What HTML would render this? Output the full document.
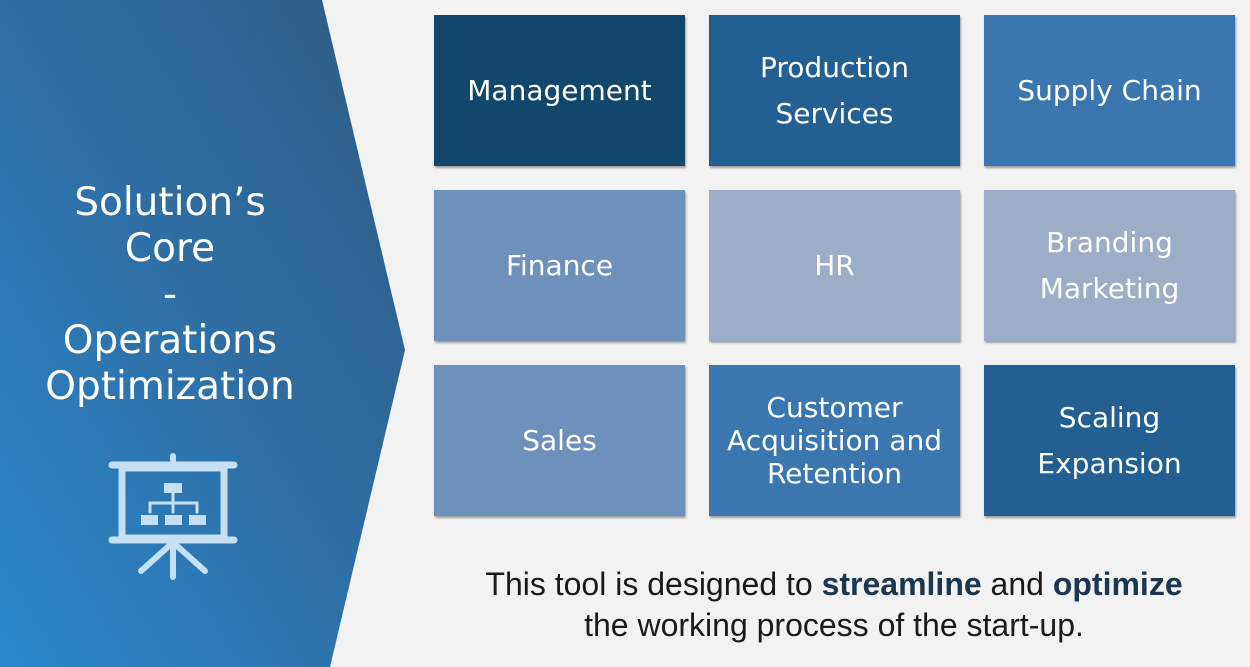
<!DOCTYPE html>
<html><head><meta charset="utf-8"><style>
body{margin:0;width:1250px;height:667px;background:#f2f2f2;position:relative;overflow:hidden;font-family:"DejaVu Sans","Liberation Sans",sans-serif}
.b{position:absolute;width:251px;height:151px;display:flex;align-items:center;justify-content:center;text-align:center;color:#fff;font-size:28px;line-height:46px;box-shadow:1px 2px 2px rgba(0,0,0,.35)}
.c{position:absolute;left:0;top:180px;width:340px;text-align:center;color:#fff;font-size:39px;line-height:46px}
.t{position:absolute;left:434px;width:800px;top:564px;text-align:center;font-family:"Liberation Sans",sans-serif;font-size:32px;color:#1a1a1a;line-height:41px}
</style></head><body>
<svg width="1250" height="667" style="position:absolute;left:0;top:0">
<defs><linearGradient id="g" x1="1" y1="0" x2="0" y2="1"><stop offset="0" stop-color="#2f5a80"/><stop offset="0.5" stop-color="#2e6fa6"/><stop offset="1" stop-color="#2a87cb"/></linearGradient></defs>
<polygon points="0,0 322,0 405,350 330,667 0,667" fill="url(#g)"/>
<g stroke="#c5e0f4" fill="none" stroke-linecap="round">
<line x1="112" y1="465" x2="234" y2="465" stroke-width="7"/>
<line x1="112" y1="540" x2="234" y2="540" stroke-width="7"/>
<line x1="173" y1="456" x2="173" y2="465" stroke-width="6"/>
<rect x="122" y="468" width="102" height="70" stroke-width="7"/>
<line x1="173" y1="542" x2="173" y2="577" stroke-width="6"/>
<line x1="170" y1="545" x2="141" y2="571" stroke-width="6"/>
<line x1="176" y1="545" x2="205" y2="571" stroke-width="6"/>
<path d="M173 491V503M150 512V503H197V512M173 503V512" stroke-width="3"/>
</g>
<g fill="#c5e0f4">
<rect x="164" y="483" width="18" height="10"/>
<rect x="141" y="515" width="17" height="10"/>
<rect x="165" y="515" width="17" height="10"/>
<rect x="189" y="515" width="17" height="10"/>
</g>
</svg>
<div class="c">Solution’s<br>Core<br>-<br>Operations<br>Optimization</div>
<div class="b" style="left:434px;top:15px;background:#12476b">Management</div>
<div class="b" style="left:709px;top:15px;background:#235f93">Production<br>Services</div>
<div class="b" style="left:984px;top:15px;background:#3b76b1">Supply Chain</div>
<div class="b" style="left:434px;top:190px;background:#6d91bb">Finance</div>
<div class="b" style="left:709px;top:190px;background:#9dadc8">HR</div>
<div class="b" style="left:984px;top:190px;background:#9dadc8">Branding<br>Marketing</div>
<div class="b" style="left:434px;top:365px;background:#6d91bb">Sales</div>
<div class="b" style="left:709px;top:365px;background:#3b76b1;line-height:33px">Customer<br>Acquisition and<br>Retention</div>
<div class="b" style="left:984px;top:365px;background:#235f93">Scaling<br>Expansion</div>
<div class="t">This tool is designed to <b style="color:#1c3550">streamline</b> and <b style="color:#1c3550">optimize</b><br>the working process of the start-up.</div>
</body></html>
